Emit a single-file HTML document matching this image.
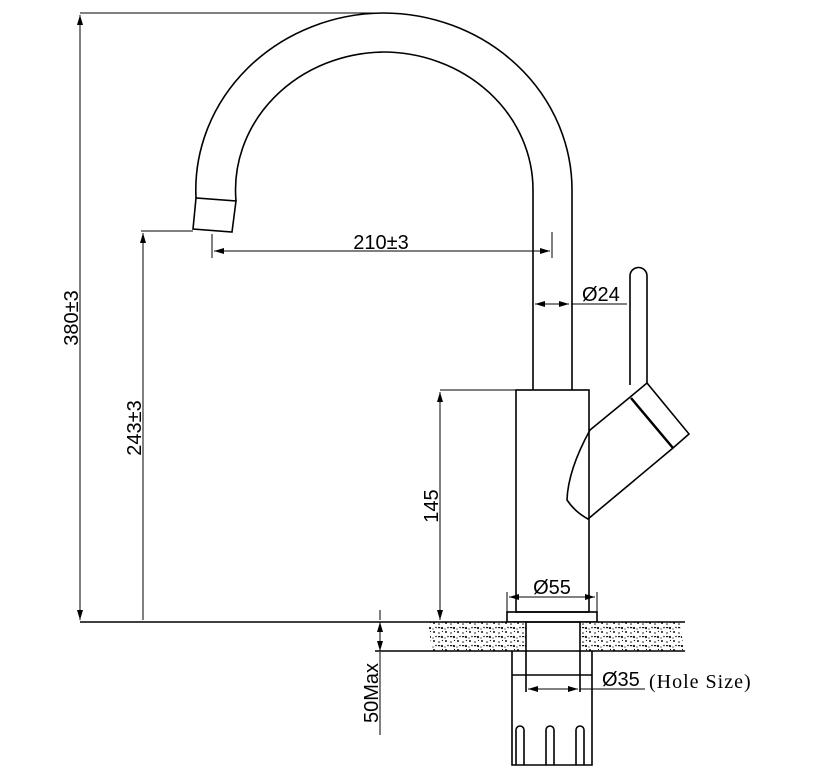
<!DOCTYPE html>
<html><head><style>body{margin:0;background:#fff}svg{display:block}</style></head><body>
<svg width="818" height="768" viewBox="0 0 818 768" xmlns="http://www.w3.org/2000/svg">
<defs>
<pattern id="sp" width="12" height="9" patternUnits="userSpaceOnUse">
<rect width="12" height="9" fill="#fff"/>
<circle cx="2" cy="2" r="1" fill="#111"/><circle cx="7" cy="3" r="0.8" fill="#111"/><circle cx="10" cy="7" r="1.1" fill="#111"/><circle cx="4" cy="6.5" r="0.8" fill="#111"/><rect x="6" y="6" width="2.2" height="1.2" fill="#111"/><circle cx="10.5" cy="1.5" r="0.6" fill="#111"/><circle cx="1" cy="8" r="0.6" fill="#111"/>
</pattern>
<marker id="a" viewBox="0 0 10 6" refX="10" refY="3" markerWidth="10" markerHeight="6" orient="auto-start-reverse" markerUnits="userSpaceOnUse"><path d="M0 0L10 3L0 6z" fill="#000"/></marker>
</defs>
<g fill="none" stroke="#000" stroke-width="1.6">
<path d="M572 390 L572 190 A189 177 0 0 0 383 13 A189 177 0 0 0 196 198"/>
<path d="M533 390 L533 190 A150 138 0 0 0 383 52 A150 138 0 0 0 236 201"/>
<path d="M196 198 L193 229 L232 232 L236 201 Z"/>
<rect x="516" y="390" width="73" height="222"/>
<rect x="507" y="612" width="90" height="10"/>
<path d="M630 385 L630 276 A8.5 8.5 0 0 1 647 276 L647 383"/>
<path d="M629 398 L647 383 L689 434 L673 448 L588 519 Q575 512 567 500 Q568 470 590 430 Z"/>
<path d="M631 398 L673 448" stroke-width="2.5"/>
<path d="M428 622 L526 622 L526 651 L432 651 Z M580 622 L680 622 L684 651 L580 651 Z" fill="url(#sp)" stroke="none"/>
<path d="M80 622 L685 622 M375 651 L685 651 M526 622 L526 651 M580 622 L580 651"/>
<path d="M512 651 L512 765 L592 765 L592 651 M526 651 L526 692 M580 651 L580 692 M512 675 L592 675"/>
<path d="M516 765 L516 730 A4 4 0 0 1 524 730 L524 765 M546 765 L546 730 A4 4 0 0 1 554 730 L554 765 M576 765 L576 730 A4 4 0 0 1 584 730 L584 765"/>
</g>
<g fill="none" stroke="#000" stroke-width="1">
<path d="M80 13 L383 13 M141 231 L193 231 M440 390 L516 390 M212 234 L212 258 M552 232 L552 258 M507 592 L507 612 M597 592 L597 612 M571 304 L627 304 M580 689 L645 689"/>
<path d="M80 15 L80 620" marker-start="url(#a)" marker-end="url(#a)"/>
<path d="M143 233 L143 620" marker-start="url(#a)"/>
<path d="M440 392 L440 620" marker-start="url(#a)" marker-end="url(#a)"/>
<path d="M214 251 L550 251" marker-start="url(#a)" marker-end="url(#a)"/>
<path d="M535 304 L569 304" marker-start="url(#a)" marker-end="url(#a)"/>
<path d="M509 597 L595 597" marker-start="url(#a)" marker-end="url(#a)"/>
<path d="M528 689 L578 689" marker-start="url(#a)" marker-end="url(#a)"/>
<path d="M380 622 L380 651" marker-start="url(#a)" marker-end="url(#a)"/>
<path d="M380 610 L380 620 M380 652 L380 735"/>
</g>
<g font-family="Liberation Sans, sans-serif" font-size="20" fill="#000">
<text x="381" y="249" text-anchor="middle">210±3</text>
<text x="582" y="301">Ø24</text>
<text x="552" y="594" text-anchor="middle">Ø55</text>
<text x="602" y="686">Ø35</text>
<text x="649" y="688" font-family="Liberation Serif, serif" font-size="20" letter-spacing="1">(Hole Size)</text>
<text transform="translate(78 318) rotate(-90)" text-anchor="middle">380±3</text>
<text transform="translate(141 428) rotate(-90)" text-anchor="middle">243±3</text>
<text transform="translate(438 506) rotate(-90)" text-anchor="middle">145</text>
<text transform="translate(378 693) rotate(-90)" text-anchor="middle">50Max</text>
</g>
</svg>
</body></html>
